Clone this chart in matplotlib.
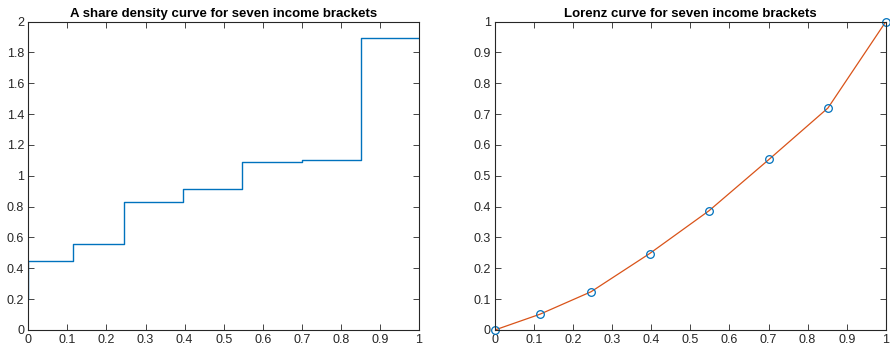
import matplotlib
matplotlib.use("Agg")
import matplotlib.pyplot as plt
from matplotlib.ticker import FuncFormatter, MultipleLocator

plt.rcParams["font.family"] = ["Liberation Sans", "DejaVu Sans"]

# bracket edges (population share) and density levels
edges = [0.0, 0.115, 0.246, 0.396, 0.548, 0.701, 0.852, 1.0]
density = [0.445, 0.556, 0.828, 0.917, 1.088, 1.100, 1.894]
density_start = 0.2

# Lorenz curve points
lorenz_x = [0.0, 0.115, 0.246, 0.396, 0.548, 0.701, 0.852, 1.0]
lorenz_y = [0.0, 0.051, 0.124, 0.248, 0.387, 0.553, 0.720, 1.0]

blue = "#0072BD"
orange = "#D95319"
axcol = "#262626"

fig = plt.figure(figsize=(8.9, 3.54), dpi=100)
ax1 = fig.add_axes([0.0318, 0.0678, 0.439, 0.871])
ax2 = fig.add_axes([0.556, 0.0678, 0.4393, 0.871])

fmt = FuncFormatter(lambda v, p: "%g" % round(v, 2))


def style(ax):
    for s in ax.spines.values():
        s.set_color(axcol)
        s.set_linewidth(0.8)
    ax.tick_params(direction="in", top=True, right=True, length=4, width=0.6,
                   colors=axcol, labelsize=9, pad=3)
    ax.xaxis.set_major_locator(MultipleLocator(0.1))
    ax.xaxis.set_major_formatter(fmt)
    ax.yaxis.set_major_formatter(fmt)


# left: stair plot of share density
xs = [edges[0]]
ys = [density_start]
for i, d in enumerate(density):
    xs += [edges[i], edges[i + 1]]
    ys += [d, d]
ax1.plot(xs, ys, color=blue, linewidth=1.0)
ax1.set_xlim(0, 1)
ax1.set_ylim(0, 2)
ax1.yaxis.set_major_locator(MultipleLocator(0.2))
style(ax1)
ax1.set_title("A share density curve for seven income brackets",
              fontsize=9.5, fontweight="bold", pad=3)

# right: Lorenz curve
ax2.plot(lorenz_x, lorenz_y, color=orange, linewidth=0.9)
ax2.plot(lorenz_x, lorenz_y, "o", mfc="none", mec=blue, markersize=5.5,
         markeredgewidth=0.9, clip_on=False)
ax2.set_xlim(0, 1)
ax2.set_ylim(0, 1)
ax2.yaxis.set_major_locator(MultipleLocator(0.1))
style(ax2)
ax2.set_title("Lorenz curve for seven income brackets",
              fontsize=9.5, fontweight="bold", pad=3)

fig.savefig("out.png", dpi=100)
